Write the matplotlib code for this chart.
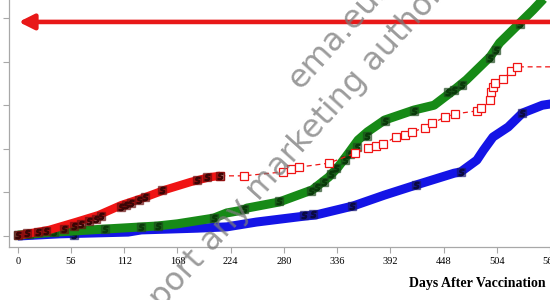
import matplotlib
matplotlib.use('Agg')
import matplotlib.pyplot as plt
import numpy as np

# curve values (days, cumulative value in tick units)
red_days = [0, 2, 33, 61, 85, 109, 134, 155, 182, 202, 213]
red_vals = [0, 0.02, 0.14, 0.32, 0.48, 0.71, 0.89, 1.06, 1.24, 1.35, 1.38]

red_cens_days = [0, 10, 21, 30, 49, 59, 66, 75, 82, 88, 109, 114, 119, 127, 134, 152, 189, 199, 213]
red_cens_vals = [0.02, 0.07, 0.09, 0.11, 0.16, 0.23, 0.28, 0.34, 0.39, 0.46, 0.67, 0.71, 0.76, 0.83, 0.89, 1.06, 1.28, 1.35, 1.38]

red_sq_days = [213, 238, 279, 287, 296, 327, 355, 368, 377, 384, 398, 407, 415, 428, 436, 450, 460,
               483, 487, 497, 498, 500, 502, 511, 519, 525, 565]
red_sq_vals = [1.38, 1.38, 1.47, 1.54, 1.58, 1.67, 1.90, 2.02, 2.06, 2.11, 2.27, 2.32, 2.39, 2.48, 2.59,
               2.73, 2.80, 2.87, 2.94, 3.12, 3.30, 3.42, 3.51, 3.60, 3.78, 3.88, 3.88]

green_days = [0, 40, 92, 147, 168, 206, 220, 238, 241, 275, 310, 327, 337, 348, 358, 368, 386, 417,
              438, 459, 472, 497, 507, 528, 542, 552, 562]
green_vals = [0.02, 0.09, 0.16, 0.23, 0.28, 0.41, 0.53, 0.60, 0.64, 0.78, 1.06, 1.35, 1.58, 1.90, 2.20,
              2.39, 2.66, 2.89, 3.00, 3.35, 3.58, 4.11, 4.43, 4.88, 5.18, 5.41, 5.69]

green_cens_days = [0, 12, 38, 92, 130, 147, 206, 238, 275, 308, 315, 322, 330, 335, 344, 350, 357, 367,
                   386, 417, 453, 459, 467, 497, 503, 528]
green_cens_vals = [0.02, 0.05, 0.09, 0.16, 0.21, 0.23, 0.41, 0.62, 0.80, 1.03, 1.12, 1.24, 1.42, 1.56,
                   1.74, 1.88, 2.04, 2.29, 2.64, 2.87, 3.30, 3.35, 3.46, 4.08, 4.27, 4.86]

blue_days = [0, 44, 116, 130, 189, 220, 251, 303, 313, 353, 386, 419, 459, 466, 483, 490, 500, 516,
             531, 552, 573]
blue_vals = [0, 0.05, 0.09, 0.14, 0.18, 0.21, 0.32, 0.46, 0.48, 0.69, 0.94, 1.17, 1.44, 1.47, 1.74,
             1.97, 2.27, 2.50, 2.82, 3.00, 3.07]

blue_cens_days = [59, 301, 311, 352, 419, 466, 531]
blue_cens_vals = [0.03, 0.48, 0.50, 0.69, 1.17, 1.47, 2.82]

xticks = np.arange(0, 561, 56)
yticks = [0, 1, 2, 3, 4, 5]
arrow_level = 4.91

fig = plt.figure(figsize=(5.5, 3), dpi=100)
ax = fig.add_axes([9/550, 53/300, 541/550, 247/300])

RED = '#f01414'
GREEN = '#178a17'
BLUE = '#1414e6'

ax.plot(blue_days, blue_vals, color=BLUE, lw=6.5, solid_capstyle='butt', zorder=2)
ax.plot(blue_cens_days, blue_cens_vals, ls='none', marker='s', ms=6, color='#1a1a70', alpha=0.6, zorder=3)
ax.plot(blue_cens_days, blue_cens_vals, ls='none', marker='$S$', ms=4.5, color='#0a0a40', zorder=3)

ax.plot(green_days, green_vals, color=GREEN, lw=6.5, solid_capstyle='butt', zorder=4)
ax.plot(green_cens_days, green_cens_vals, ls='none', marker='s', ms=6, color='#1e4a1e', alpha=0.6, zorder=5)
ax.plot(green_cens_days, green_cens_vals, ls='none', marker='$S$', ms=4.5, color='#0a3a0a', zorder=5)

ax.plot(red_sq_days, red_sq_vals, color=RED, lw=0.9, ls=(0, (4, 3)), marker='s', ms=6,
        mfc='white', mec=RED, mew=0.9, zorder=6)
ax.plot(red_days, red_vals, color=RED, lw=6, solid_capstyle='butt', zorder=7)
ax.plot(red_cens_days, red_cens_vals, ls='none', marker='s', ms=6, color='#6a1010', alpha=0.6, zorder=8)
ax.plot(red_cens_days, red_cens_vals, ls='none', marker='$S$', ms=4.5, color='#3a0505', zorder=8)

ax.annotate('', xy=(-2, arrow_level), xytext=(600, arrow_level),
            arrowprops=dict(arrowstyle='-|>,head_length=0.9,head_width=0.45', color='#e81818', lw=3.3),
            annotation_clip=False, zorder=9)

ax.set_xlim(-9.3, 552)
ax.set_ylim(-0.252, 5.413)
ax.set_xticks(xticks)
ax.set_xticklabels([str(t) for t in xticks], family='Liberation Serif', fontsize=7.5)
ax.set_yticks(yticks)
ax.set_yticklabels([])
for s in ['top', 'right']:
    ax.spines[s].set_visible(False)
for s in ['left', 'bottom']:
    ax.spines[s].set_color('#a8a8a8')
    ax.spines[s].set_linewidth(0.9)
ax.tick_params(axis='x', length=4, color='#a8a8a8', pad=3)
ax.tick_params(axis='y', length=4.5, color='#a8a8a8')

fig.text(546/550, 1 - 283/300, 'Days After Vaccination', ha='right', va='center',
         family='Liberation Serif', fontweight='bold', fontsize=10)

# watermark
wm = dict(rotation=48, rotation_mode='anchor', ha='left', va='baseline', fontsize=23,
          color='#7a7a7a', alpha=0.75, family='DejaVu Sans', zorder=20)
fig.text(300/550, 1 - 90/300, 'ema.europa.eu', **wm)
fig.text(135/550, 1 - 339/300, 'Report any marketing authorisation', **wm)

fig.savefig('out.png', dpi=100)
